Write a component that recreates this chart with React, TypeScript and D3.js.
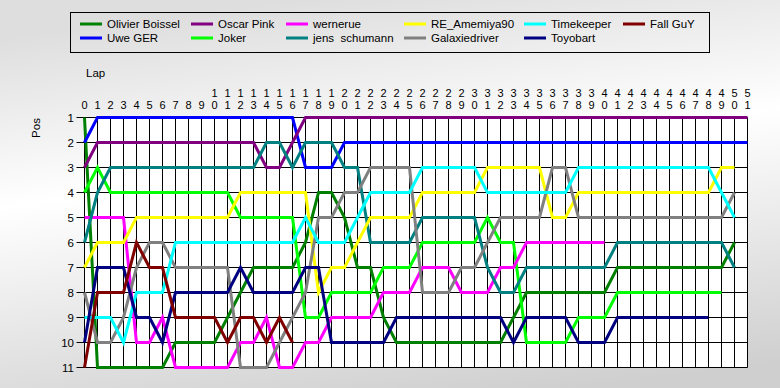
import React from "react";
import * as d3 from "d3";

// drivers, in grid order (legend is filled column by column)
const drivers = [
  "Olivier Boissel",
  "Uwe GER",
  "Oscar Pink",
  "Joker",
  "wernerue",
  "jens  schumann",
  "RE_Amemiya90",
  "Galaxiedriver",
  "Timekeeper",
  "Toyobart",
  "Fall GuY",
];

const colors = [
  "#008000",
  "#0000ff",
  "#800080",
  "#00ff00",
  "#ff00ff",
  "#008080",
  "#ffff00",
  "#808080",
  "#00ffff",
  "#000080",
  "#800000",
];

// position per lap, starting at lap 0
const olivierBoissel = [1, 11, 11, 11, 11, 11, 11, 10, 10, 10, 10, 9, 8, 7, 7, 7, 7, 6, 4, 4, 5, 7, 7, 9, 10, 10, 10, 10, 10, 10, 10, 10, 10, 9, 8, 8, 8, 8, 8, 8, 8, 7, 7, 7, 7, 7, 7, 7, 7, 7, 6];
const uweGer = [2, 1, 1, 1, 1, 1, 1, 1, 1, 1, 1, 1, 1, 1, 1, 1, 1, 3, 3, 3, 2, 2, 2, 2, 2, 2, 2, 2, 2, 2, 2, 2, 2, 2, 2, 2, 2, 2, 2, 2, 2, 2, 2, 2, 2, 2, 2, 2, 2, 2, 2, 2];
const oscarPink = [3, 2, 2, 2, 2, 2, 2, 2, 2, 2, 2, 2, 2, 2, 3, 3, 2, 1, 1, 1, 1, 1, 1, 1, 1, 1, 1, 1, 1, 1, 1, 1, 1, 1, 1, 1, 1, 1, 1, 1, 1, 1, 1, 1, 1, 1, 1, 1, 1, 1, 1, 1];
const joker = [4, 3, 4, 4, 4, 4, 4, 4, 4, 4, 4, 4, 5, 5, 5, 5, 5, 9, 9, 8, 8, 8, 8, 7, 7, 7, 6, 6, 6, 6, 6, 5, 6, 6, 10, 10, 10, 10, 9, 9, 9, 8, 8, 8, 8, 8, 8, 8, 8, 8];
const wernerue = [5, 5, 5, 5, 10, 10, 9, 11, 11, 11, 11, 11, 10, 10, 9, 11, 11, 10, 10, 9, 9, 9, 9, 8, 8, 8, 7, 7, 7, 8, 8, 8, 7, 7, 6, 6, 6, 6, 6, 6, 6];
const jensSchumann = [6, 4, 3, 3, 3, 3, 3, 3, 3, 3, 3, 3, 3, 3, 2, 2, 3, 2, 2, 2, 3, 3, 6, 6, 6, 6, 5, 5, 5, 5, 5, 7, 8, 8, 7, 7, 7, 7, 7, 7, 7, 6, 6, 6, 6, 6, 6, 6, 6, 6, 7];
const reAmemiya = [7, 6, 6, 6, 5, 5, 5, 5, 5, 5, 5, 5, 4, 4, 4, 4, 4, 4, 8, 7, 7, 6, 5, 5, 5, 5, 4, 4, 4, 4, 4, 3, 3, 3, 3, 3, 5, 5, 4, 4, 4, 4, 4, 4, 4, 4, 4, 4, 4, 3, 3];
const galaxiedriver = [8, 10, 10, 9, 7, 6, 6, 7, 7, 7, 7, 7, 11, 11, 11, 10, 9, 8, 5, 5, 4, 4, 3, 3, 3, 3, 8, 8, 8, 7, 7, 6, 5, 5, 5, 5, 3, 3, 5, 5, 5, 5, 5, 5, 5, 5, 5, 5, 5, 5, 4];
const timekeeper = [9, 9, 9, 10, 8, 8, 8, 6, 6, 6, 6, 6, 6, 6, 6, 6, 6, 5, 6, 6, 6, 5, 4, 4, 4, 4, 3, 3, 3, 3, 3, 4, 4, 4, 4, 4, 4, 4, 3, 3, 3, 3, 3, 3, 3, 3, 3, 3, 3, 4, 5];
const toyobart = [10, 7, 7, 7, 9, 9, 10, 8, 8, 8, 8, 8, 7, 8, 8, 8, 8, 7, 7, 10, 10, 10, 10, 10, 9, 9, 9, 9, 9, 9, 9, 9, 9, 10, 9, 9, 9, 9, 10, 10, 10, 9, 9, 9, 9, 9, 9, 9, 9];
const fallGuy = [11, 8, 8, 8, 6, 7, 7, 9, 9, 9, 9, 10, 9, 9, 10, 9, 10];

const series = [
  olivierBoissel,
  uweGer,
  oscarPink,
  joker,
  wernerue,
  jensSchumann,
  reAmemiya,
  galaxiedriver,
  timekeeper,
  toyobart,
  fallGuy,
];

const lapTicks = d3.range(0, 52);
const posTicks = [1, 2, 3, 4, 5, 6, 7, 8, 9, 10, 11];

const W = 780;
const H = 388;
const FONT = "'Liberation Sans', Arial, sans-serif";

export default function App() {
  const x = d3.scaleLinear().domain([0, 51]).range([84.5, 747.5]);
  const y = d3.scaleLinear().domain([1, 11]).range([117.5, 367.5]);

  const line = d3
    .line<number>()
    .x((_, i) => x(i))
    .y((d) => y(d));

  // legend columns (swatch start), two rows
  const legendX = [80, 191, 286, 404, 524, 623];
  const legendY = [24, 38];

  return (
    <svg
      width={W}
      height={H}
      style={{ position: "absolute", left: 0, top: 0, fontFamily: FONT }}
    >
      <defs>
        <linearGradient
          id="bg"
          gradientUnits="userSpaceOnUse"
          x1={370}
          y1={-9}
          x2={423}
          y2={408}
        >
          <stop offset="0" stopColor="#dedede" />
          <stop offset="0.4" stopColor="#ffffff" />
          <stop offset="1" stopColor="#cfcfcf" />
        </linearGradient>
      </defs>
      <rect x={0} y={0} width={W} height={H} fill="url(#bg)" />

      {/* legend */}
      <rect x={70.5} y={12.5} width={639} height={40} fill="none" stroke="#000" />
      {drivers.map((name, i) => {
        const lx = legendX[Math.floor(i / 2)];
        const ly = legendY[i % 2];
        return (
          <g key={name}>
            <line x1={lx} x2={lx + 22} y1={ly} y2={ly} stroke={colors[i]} strokeWidth={3} />
            <text x={lx + 27} y={ly + 4} fontSize={11.5} fill="#000" style={{ whiteSpace: "pre" }}>
              {name}
            </text>
          </g>
        );
      })}

      {/* axis titles */}
      <text x={86} y={77} fontSize={11.5}>Lap</text>
      <text
        transform={`translate(40,128) rotate(-90)`}
        textAnchor="middle"
        fontSize={11.5}
      >
        Pos
      </text>

      {/* plot area */}
      <rect x={x(0)} y={y(1)} width={x(51) - x(0)} height={y(11) - y(1)} fill="#fff" />
      {lapTicks.map((l) => (
        <line key={"v" + l} x1={x(l)} x2={x(l)} y1={y(1)} y2={y(11)} stroke="#000" strokeWidth={1} />
      ))}
      {posTicks.map((p) => (
        <line key={"h" + p} x1={x(0) - 8} x2={x(51)} y1={y(p)} y2={y(p)} stroke="#000" strokeWidth={1} />
      ))}

      {/* lap labels, two-digit numbers stacked */}
      {lapTicks.map((l) => {
        const s = String(l);
        return s.length === 1 ? (
          <text key={"l" + l} x={x(l)} y={109} textAnchor="middle" fontSize={11}>
            {s}
          </text>
        ) : (
          <g key={"l" + l}>
            <text x={x(l)} y={97} textAnchor="middle" fontSize={11}>{s[0]}</text>
            <text x={x(l)} y={109} textAnchor="middle" fontSize={11}>{s[1]}</text>
          </g>
        );
      })}

      {/* position labels */}
      {posTicks.map((p) => (
        <text key={"p" + p} x={74} y={y(p) + 4} textAnchor="end" fontSize={11.5}>
          {p}
        </text>
      ))}

      {/* driver lines */}
      {series.map((s, i) => (
        <path
          key={drivers[i]}
          d={line(s) || ""}
          fill="none"
          stroke={colors[i]}
          strokeWidth={3}
        />
      ))}
    </svg>
  );
}
